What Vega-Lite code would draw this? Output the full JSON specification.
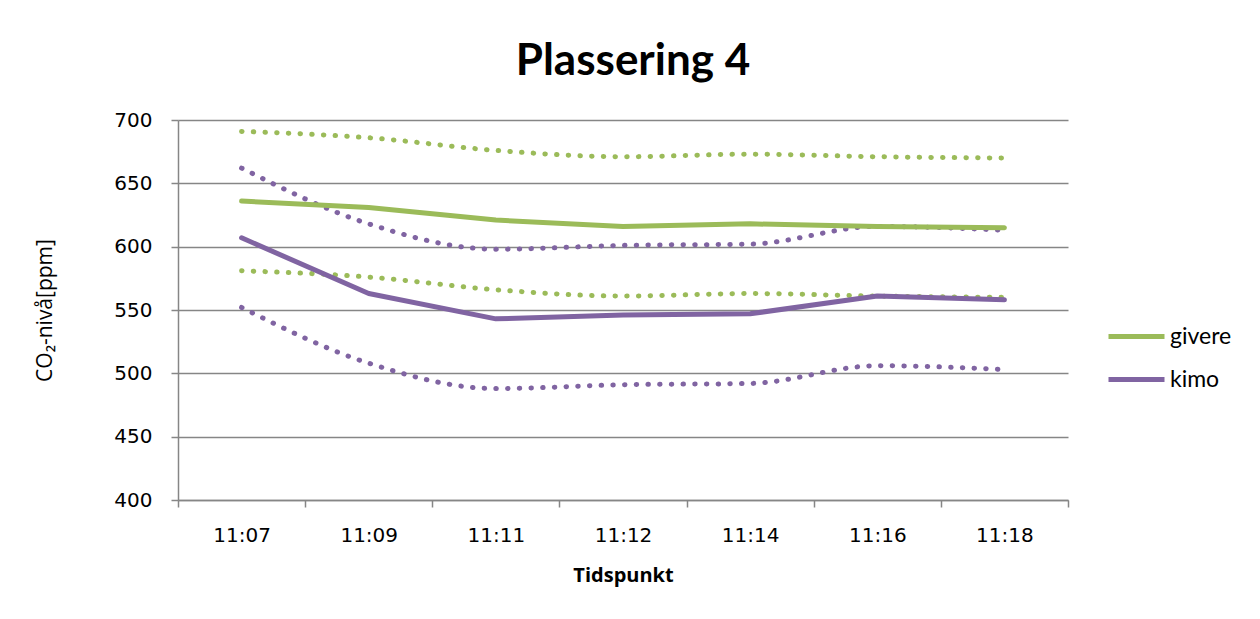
{
  "$schema": "https://vega.github.io/schema/vega-lite/v6.json",
  "width": 890,
  "height": 380,
  "autosize": "none",
  "padding": {"left": 178, "top": 120, "right": 192, "bottom": 119},
  "background": "white",
  "title": {"text": "Plassering 4", "font": "Lato", "fontSize": 44, "fontWeight": "bold", "color": "#000000", "anchor": "middle", "offset": 26, "dx": 10},
  "config": {
    "font": "Lato",
    "view": {"stroke": null},
    "axis": {"labelFont": "DejaVu Sans", "labelFontSize": 20, "labelColor": "#000000", "titleColor": "#000000", "domainColor": "#868686", "tickColor": "#868686", "gridColor": "#868686", "gridWidth": 1.5, "domainWidth": 1.5, "tickWidth": 1.5}
  },
  "data": {"values": [
    {"tid": "11:07", "serie": "givere", "del": "mid", "ppm": 636},
    {"tid": "11:09", "serie": "givere", "del": "mid", "ppm": 631},
    {"tid": "11:11", "serie": "givere", "del": "mid", "ppm": 621},
    {"tid": "11:12", "serie": "givere", "del": "mid", "ppm": 616},
    {"tid": "11:14", "serie": "givere", "del": "mid", "ppm": 618},
    {"tid": "11:16", "serie": "givere", "del": "mid", "ppm": 616},
    {"tid": "11:18", "serie": "givere", "del": "mid", "ppm": 615},
    {"tid": "11:07", "serie": "givere", "del": "upper", "ppm": 691},
    {"tid": "11:09", "serie": "givere", "del": "upper", "ppm": 686},
    {"tid": "11:11", "serie": "givere", "del": "upper", "ppm": 676},
    {"tid": "11:12", "serie": "givere", "del": "upper", "ppm": 671},
    {"tid": "11:14", "serie": "givere", "del": "upper", "ppm": 673},
    {"tid": "11:16", "serie": "givere", "del": "upper", "ppm": 671},
    {"tid": "11:18", "serie": "givere", "del": "upper", "ppm": 670},
    {"tid": "11:07", "serie": "givere", "del": "lower", "ppm": 581},
    {"tid": "11:09", "serie": "givere", "del": "lower", "ppm": 576},
    {"tid": "11:11", "serie": "givere", "del": "lower", "ppm": 566},
    {"tid": "11:12", "serie": "givere", "del": "lower", "ppm": 561},
    {"tid": "11:14", "serie": "givere", "del": "lower", "ppm": 563},
    {"tid": "11:16", "serie": "givere", "del": "lower", "ppm": 561},
    {"tid": "11:18", "serie": "givere", "del": "lower", "ppm": 560},
    {"tid": "11:07", "serie": "kimo", "del": "mid", "ppm": 607},
    {"tid": "11:09", "serie": "kimo", "del": "mid", "ppm": 563},
    {"tid": "11:11", "serie": "kimo", "del": "mid", "ppm": 543},
    {"tid": "11:12", "serie": "kimo", "del": "mid", "ppm": 546},
    {"tid": "11:14", "serie": "kimo", "del": "mid", "ppm": 547},
    {"tid": "11:16", "serie": "kimo", "del": "mid", "ppm": 561},
    {"tid": "11:18", "serie": "kimo", "del": "mid", "ppm": 558},
    {"tid": "11:07", "serie": "kimo", "del": "upper", "ppm": 662},
    {"tid": "11:09", "serie": "kimo", "del": "upper", "ppm": 618},
    {"tid": "11:11", "serie": "kimo", "del": "upper", "ppm": 598},
    {"tid": "11:12", "serie": "kimo", "del": "upper", "ppm": 601},
    {"tid": "11:14", "serie": "kimo", "del": "upper", "ppm": 602},
    {"tid": "11:16", "serie": "kimo", "del": "upper", "ppm": 616},
    {"tid": "11:18", "serie": "kimo", "del": "upper", "ppm": 613},
    {"tid": "11:07", "serie": "kimo", "del": "lower", "ppm": 552},
    {"tid": "11:09", "serie": "kimo", "del": "lower", "ppm": 508},
    {"tid": "11:11", "serie": "kimo", "del": "lower", "ppm": 488},
    {"tid": "11:12", "serie": "kimo", "del": "lower", "ppm": 491},
    {"tid": "11:14", "serie": "kimo", "del": "lower", "ppm": 492},
    {"tid": "11:16", "serie": "kimo", "del": "lower", "ppm": 506},
    {"tid": "11:18", "serie": "kimo", "del": "lower", "ppm": 503}
  ]},
  "encoding": {
    "x": {"field": "tid", "type": "ordinal", "scale": {"paddingInner": 0, "paddingOuter": 0},
      "axis": {"title": "Tidspunkt", "titleFont": "Open Sans", "titleFontSize": 20, "titleFontWeight": "bold", "titlePadding": 20, "labelAngle": 0, "labelPadding": 18, "tickBand": "extent", "tickSize": 7, "grid": false}},
    "y": {"field": "ppm", "type": "quantitative", "scale": {"domain": [400, 700], "nice": false, "zero": false},
      "axis": {"title": "CO₂-nivå[ppm]", "titleFont": "Open Sans", "titleFontSize": 21, "titleFontWeight": "normal", "titlePadding": 58, "values": [400, 450, 500, 550, 600, 650, 700], "tickSize": 7, "labelPadding": 19, "grid": true}},
    "color": {"field": "serie", "type": "nominal", "scale": {"domain": ["givere", "kimo"], "range": ["#9BBB59", "#8064A2"]},
      "legend": {"title": null, "orient": "none", "legendX": 928, "legendY": 186, "symbolType": "stroke", "symbolStrokeWidth": 5, "symbolSize": 3136, "rowPadding": -7, "labelFont": "Lato", "labelFontSize": 23, "labelColor": "#000000", "labelOffset": 3}}
  },
  "layer": [
    {
      "transform": [{"filter": "datum.del !== 'mid'"}],
      "mark": {"type": "line", "interpolate": "monotone", "strokeWidth": 5, "strokeDash": [0.5, 11.2], "strokeCap": "round"},
      "encoding": {"detail": {"field": "del"}}
    },
    {
      "transform": [{"filter": "datum.del === 'mid'"}],
      "mark": {"type": "line", "strokeWidth": 5, "strokeCap": "round", "strokeJoin": "round"}
    }
  ]
}
